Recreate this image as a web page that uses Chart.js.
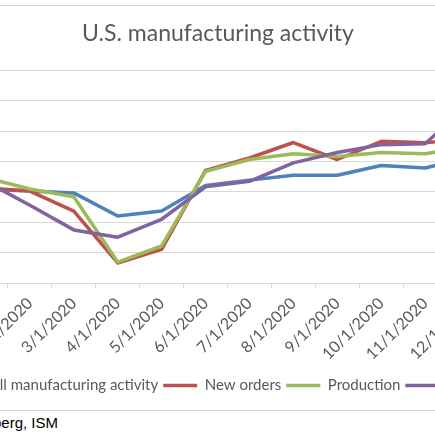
<!DOCTYPE html>
<html>
<head>
<meta charset="utf-8">
<title>U.S. manufacturing activity</title>
<script src="https://cdn.jsdelivr.net/npm/chart.js@4.4.1/dist/chart.umd.min.js"></script>
<style>
  html, body { margin: 0; padding: 0; background: #fff; }
  #view { position: relative; width: 435px; height: 435px; overflow: hidden; }
  /* the original chart is wider than the picture, so it is cropped on both sides */
  #box { position: absolute; left: -108px; top: 5px; width: 652px; height: 406px;
         border: 1px solid #d9d9d9; box-sizing: border-box; }
  #wrap { position: relative; width: 650px; height: 404px; }
  #source { position: absolute; right: 377px; top: 414.6px; font: 15px/15px "Liberation Sans", Arial, sans-serif;
            color: #000; white-space: nowrap; }
</style>
</head>
<body>
<div id="view">
  <div id="box"><div id="wrap"><canvas id="ismChart"></canvas></div></div>
  <div id="source">Source: Bloomberg, ISM</div>
</div>
<script>
// Meses (eixo x)
const months = ['1/1/2020', '2/1/2020', '3/1/2020', '4/1/2020', '5/1/2020', '6/1/2020',
                '7/1/2020', '8/1/2020', '9/1/2020', '10/1/2020', '11/1/2020', '12/1/2020'];

// Séries
const overall    = [50.9, 50.3, 49.7, 42.1, 43.7, 52.1, 53.9, 55.5, 55.5, 58.7, 57.9, 61.5];
const newOrders  = [51.3, 50.3, 43.7, 26.6, 31.1, 57.1, 61.2, 66.3, 60.7, 66.7, 66.2, 67.5];
const production = [54.7, 51.0, 48.4, 26.9, 32.2, 56.8, 60.7, 62.6, 61.7, 63.0, 62.6, 64.8];
const prices     = [53.4, 45.6, 37.5, 35.1, 41.0, 51.7, 53.5, 59.6, 63.0, 65.6, 65.9, 79.0];

// Eixo y
const yMin = 20;
const yMax = 90;
const yStep = 10;

const textColor = '#595959';
const gridColor = '#d9d9d9';
const fontFamily = 'Lato, "Open Sans", sans-serif';

function serie(label, data, color, order) {
    return {
        label: label,
        data: data,
        borderColor: color,
        backgroundColor: color,
        borderWidth: 3.5,
        pointRadius: 0,
        pointHoverRadius: 0,
        tension: 0,
        fill: false,
        borderJoinStyle: 'round',
        borderCapStyle: 'round',
        pointStyle: 'line',
        order: order  // a última série fica por cima, como no Excel
    };
}

const ctx = document.getElementById('ismChart').getContext('2d');

const chart = new Chart(ctx, {
    type: 'line',
    data: {
        labels: months,
        datasets: [
            serie('Overall manufacturing activity', overall, '#4f81bd', 4),
            serie('New orders', newOrders, '#c0504d', 3),
            serie('Production', production, '#9bbb59', 2),
            serie('Prices paid', prices, '#8064a2', 1)
        ]
    },
    options: {
        responsive: true,
        maintainAspectRatio: false,
        animation: false,
        layout: { padding: { left: 10, right: 10, top: 0, bottom: 7 } },
        scales: {
            x: {
                type: 'category',
                offset: true,
                grid: {
                    display: true,
                    offset: true,
                    drawOnChartArea: false,
                    drawTicks: true,
                    tickLength: 5,
                    color: gridColor
                },
                border: { display: true, color: gridColor, width: 1 },
                ticks: {
                    color: textColor,
                    font: { family: fontFamily, size: 16 },
                    maxRotation: 45,
                    minRotation: 45,
                    autoSkip: false,
                    padding: 6
                },
                afterFit: (scale) => { scale.height = 90; }
            },
            y: {
                min: yMin,
                max: yMax,
                ticks: {
                    stepSize: yStep,
                    color: textColor,
                    font: { family: fontFamily, size: 15 }
                },
                grid: { color: gridColor, lineWidth: 1, drawTicks: false },
                border: { display: false },
                afterFit: (scale) => { scale.width = 61; }
            },
            yRight: {
                position: 'right',
                min: yMin,
                max: yMax,
                ticks: { display: false },
                grid: { display: false },
                border: { display: false },
                afterFit: (scale) => { scale.width = 42; }
            }
        },
        plugins: {
            title: {
                display: true,
                text: 'U.S. manufacturing activity',
                color: textColor,
                font: { family: fontFamily, size: 23, weight: 'normal' },
                padding: { top: 14, bottom: 23 }
            },
            legend: {
                position: 'bottom',
                labels: {
                    color: textColor,
                    font: { family: fontFamily, size: 15 },
                    usePointStyle: true,
                    pointStyleWidth: 34,
                    padding: 5,
                    sort: (a, b) => a.datasetIndex - b.datasetIndex
                }
            },
            tooltip: { enabled: false }
        }
    }
});
</script>
</body>
</html>
